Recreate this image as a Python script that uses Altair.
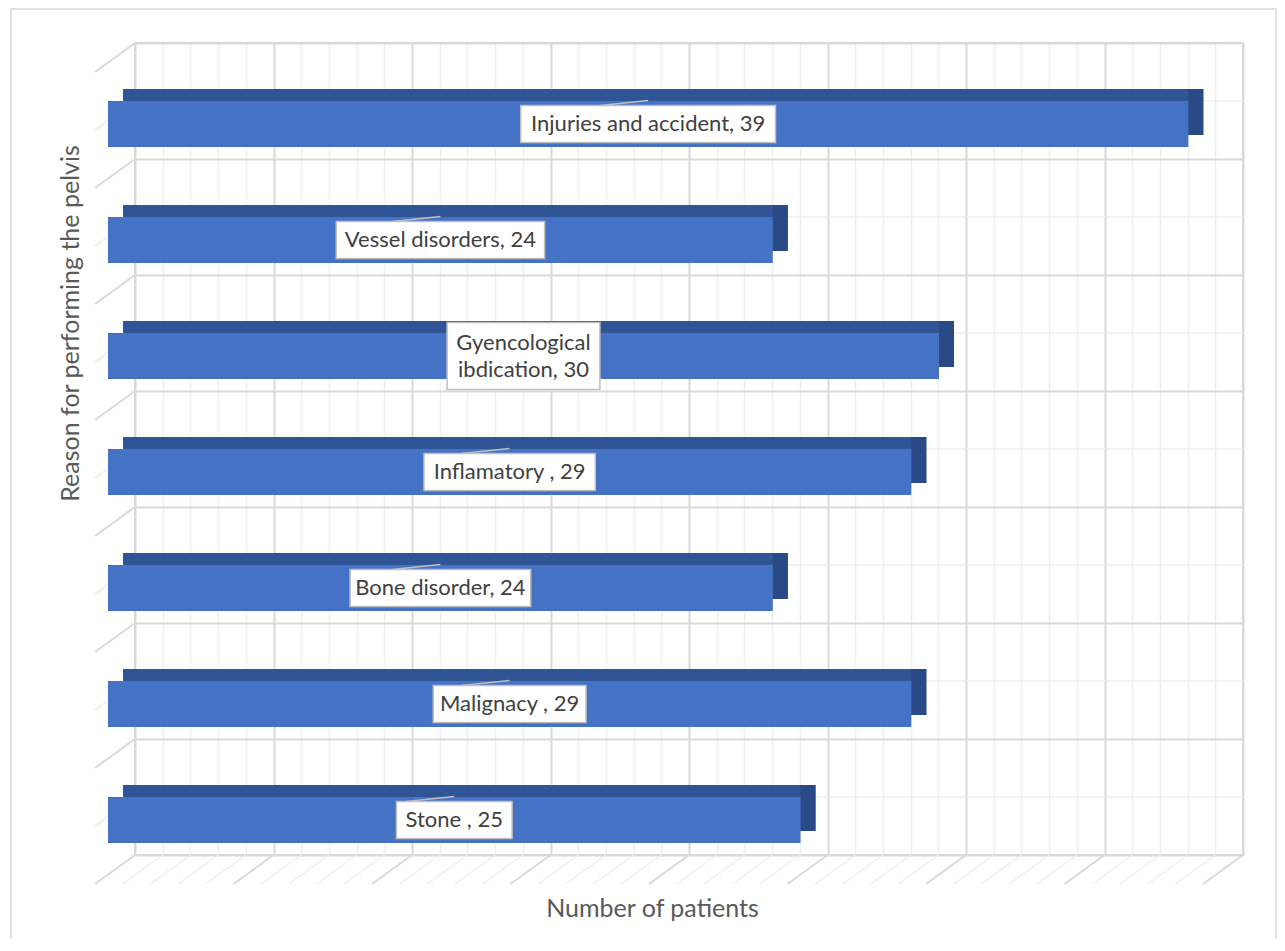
import altair as alt
import pandas as pd

# ---- data ----
categories = ["Injuries and accident", "Vessel disorders", "Gyencological ibdication",
              "Inflamatory ", "Bone disorder", "Malignacy ", "Stone "]
patients = [39, 24, 30, 29, 24, 29, 25]
wrap_first_space = [False, False, True, False, False, False, False]
grid_ticks = list(range(0, 41))      # one light gridline per patient, dark every 5

labels = []
for c, v, w in zip(categories, patients, wrap_first_space):
    lab = f"{c}, {v}"
    if w:
        lab = lab.replace(" ", "\n", 1)
    labels.append(lab)

df = pd.DataFrame({
    "cat": categories,
    "value": patients,
    "label": labels,
    "nchar": [max(len(s) for s in l.split("\n")) for l in labels],
    "lines": [l.count("\n") + 1 for l in labels],
})
ticks_df = pd.DataFrame({"t": grid_ticks})
one = pd.DataFrame({"a": [0]})

W, H = 1108, 812
XMAX = 40
PX = W / XMAX
FONT = "Lato"

xscale = alt.Scale(domain=[0, XMAX], nice=False, zero=True)
yscale = alt.Scale(paddingInner=0, paddingOuter=0)
ysort = categories

x_axis = alt.Axis(
    values=grid_ticks, labels=False, ticks=False, domain=False, grid=True,
    gridColor=alt.condition("datum.value % 5 === 0", alt.value("#d9d9d9"), alt.value("#efefef")),
    gridWidth=alt.condition("datum.value % 5 === 0", alt.value(2), alt.value(1.5)),
    title="Number of patients", titleFont=FONT, titleFontSize=25, titleFontWeight="normal",
    titleColor="#595959", titleX=517, titleY=53, titleAlign="center", titleBaseline="middle",
)
y_axis = alt.Axis(
    labels=False, ticks=False, domain=False, grid=True, tickBand="extent",
    gridColor="#d9d9d9", gridWidth=2,
    title="Reason for performing the pelvis", titleFont=FONT, titleFontSize=25,
    titleFontWeight="normal", titleColor="#595959", titleX=-65, titleY=280,
    titleAngle=-90, titleAlign="center", titleBaseline="middle",
)


def X(field):
    return alt.X(field, scale=xscale, axis=x_axis)


def Y(**kw):
    return alt.Y("cat:N", sort=ysort, scale=yscale, axis=y_axis, **kw)


X0 = alt.XDatum(0, scale=xscale, axis=x_axis)

# outer chart frame
frame = alt.Chart(one).mark_rect(filled=False, stroke="#d9d9d9", strokeWidth=1.5, clip=False).encode(
    x=alt.value(-124), x2=alt.value(1141), y=alt.value(-34), y2=alt.value(897)
)

# floor diagonals
floor = alt.Chart(ticks_df).mark_rule(x2Offset=-40, y2Offset=29, clip=False).encode(
    x=X("t:Q"),
    x2="t:Q",
    y=alt.value(H), y2=alt.value(H),
    color=alt.condition("datum.t % 5 === 0", alt.value("#d9d9d9"), alt.value("#efefef")),
    strokeWidth=alt.condition("datum.t % 5 === 0", alt.value(2), alt.value(1.5)),
)

# left wall diagonals at category boundaries
wall_b = alt.Chart(df).mark_rule(x2Offset=-40, y2Offset=29, color="#d9d9d9", strokeWidth=2, clip=False).encode(
    x=X0, x2=alt.X2Datum(0),
    y=Y(bandPosition=0),
    y2=alt.Y2("cat:N", bandPosition=0),
)
# left wall diagonals at category centres
wall_c = alt.Chart(df).mark_rule(x2Offset=-40, y2Offset=29, color="#e8e8e8", strokeWidth=1.5, clip=False).encode(
    x=X0, x2=alt.X2Datum(0),
    y=Y(bandPosition=0.5),
    y2=alt.Y2("cat:N", bandPosition=0.5),
)
# light back-wall lines at category centres
back_c = alt.Chart(df).mark_rule(color="#efefef", strokeWidth=1.5).encode(
    x=X0, x2=alt.X2Datum(XMAX),
    y=Y(bandPosition=0.5),
)

# 3D bar: dark top face, darker side face, then front face
bar_top = alt.Chart(df).mark_bar(height=46, yOffset=11, xOffset=-12, x2Offset=-12,
                                 color="#2F5597", clip=False).encode(
    x=X("value:Q"), y=Y(),
)
bar_side = alt.Chart(df).mark_bar(height=46, yOffset=11, xOffset=-12, x2Offset=-27,
                                  color="#294A86", clip=False).encode(
    x=X("value:Q"), x2="value:Q", y=Y(),
)
bar_front = alt.Chart(df).mark_bar(height=46, yOffset=23, xOffset=-27, x2Offset=-27,
                                   color="#4472C4", clip=False).encode(
    x=X("value:Q"), y=Y(),
)

# callout pointers from the label boxes to the bar
pointer = alt.Chart(df).transform_filter("datum.lines == 1").transform_calculate(
    mid="datum.value/2").mark_rule(
    color="#bfbfbf", strokeWidth=1.5, xOffset=-75, x2Offset=-27, yOffset=4.5, y2Offset=-0.5,
    clip=False).encode(
    x=X("mid:Q"), x2="mid:Q", y=Y(bandPosition=0.5), y2=alt.Y2("cat:N", bandPosition=0.5),
)

# data label boxes
box_base = alt.Chart(df).transform_calculate(
    lo=f"datum.value/2 - (datum.nchar*9.27 + 23)/2/{PX}",
    hi=f"datum.value/2 + (datum.nchar*9.27 + 23)/2/{PX}",
)
box1 = box_base.transform_filter("datum.lines == 1").mark_bar(
    height=37, yOffset=23, xOffset=-27, x2Offset=-27, fill="white", stroke="#bfbfbf",
    strokeWidth=1.5, clip=False).encode(
    x=X("lo:Q"), x2="hi:Q", y=Y(),
)
box2 = box_base.transform_filter("datum.lines == 2").mark_bar(
    height=67, yOffset=23, xOffset=-27, x2Offset=-27, fill="white", stroke="#bfbfbf",
    strokeWidth=1.5, clip=False).encode(
    x=X("lo:Q"), x2="hi:Q", y=Y(),
)
txt_base = alt.Chart(df).transform_calculate(mid="datum.value/2")
txt1 = txt_base.transform_filter("datum.lines == 1").mark_text(
    font=FONT, fontSize=22, color="#404040", xOffset=-27, yOffset=23,
    align="center", baseline="middle", lineBreak="\n", lineHeight=27).encode(
    x=X("mid:Q"), y=Y(), text="label:N",
)
txt2 = txt_base.transform_filter("datum.lines == 2").mark_text(
    font=FONT, fontSize=22, color="#404040", xOffset=-27, yOffset=9.5,
    align="center", baseline="middle", lineBreak="\n", lineHeight=27).encode(
    x=X("mid:Q"), y=Y(), text="label:N",
)

chart = alt.layer(
    frame, floor, wall_b, wall_c, back_c, bar_top, bar_side, bar_front,
    pointer, box1, box2, txt1, txt2
).properties(
    width=W, height=H,
    autosize=alt.AutoSizeParams(type="none"),
    padding={"left": 127, "top": 35, "right": 34, "bottom": 84},
    background="white",
).configure_view(stroke="#d9d9d9", strokeWidth=2)

chart.save("out.html", embed_options={"renderer": "svg", "actions": False})
